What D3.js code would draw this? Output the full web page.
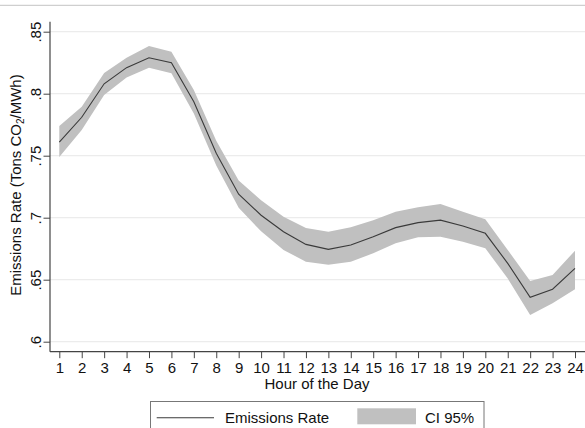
<!DOCTYPE html>
<html>
<head>
<meta charset="utf-8">
<script src="https://cdn.jsdelivr.net/npm/d3@7"></script>
<style>
  html, body { margin: 0; padding: 0; background: #fff; }
  svg { display: block; font-family: "Liberation Sans", Arial, sans-serif; }
</style>
</head>
<body>
<svg id="chart" width="585" height="428"></svg>
<script>
const hours = [1,2,3,4,5,6,7,8,9,10,11,12,13,14,15,16,17,18,19,20,21,22,23,24];
const rate  = [0.761,0.781,0.808,0.821,0.829,0.825,0.7935,0.752,0.719,0.702,0.6887,0.6785,0.6745,0.678,0.6847,0.692,0.696,0.698,0.6933,0.6874,0.6632,0.6358,0.6423,0.6592];
const ciLow = [0.749,0.7707,0.799,0.813,0.821,0.8165,0.784,0.742,0.708,0.689,0.674,0.6645,0.662,0.6645,0.6713,0.6794,0.6842,0.6847,0.6807,0.6753,0.651,0.6215,0.631,0.6423];
const ciHigh= [0.7739,0.7895,0.8167,0.829,0.8385,0.8339,0.803,0.762,0.730,0.714,0.7008,0.6917,0.6887,0.6922,0.698,0.7048,0.7084,0.711,0.7048,0.6987,0.674,0.649,0.6538,0.6734];
const yTicks = [0.6,0.65,0.7,0.75,0.8,0.85];
const yTickLabels = [".6",".65",".7",".75",".8",".85"];
const xTitle = "Hour of the Day";
const legendLabels = ["Emissions Rate","CI 95%"];

const svg = d3.select("#chart");
const x = d3.scaleLinear().domain([1,24]).range([59.3,575]);
const y = d3.scaleLinear().domain([0.6,0.85]).range([341.7,31.7]);
const axisLeftX = 50, axisBottomY = 351.7, axisTopY = 21.7, plotRight = 585;

// top frame line
svg.append("line").attr("x1",0).attr("x2",585).attr("y1",5.3).attr("y2",5.3)
  .attr("stroke","#cfcfcf").attr("stroke-width",1.2);

// gridlines
svg.append("g").selectAll("line").data(yTicks).join("line")
  .attr("x1",axisLeftX).attr("x2",plotRight)
  .attr("y1",d=>y(d)).attr("y2",d=>y(d))
  .attr("stroke","#ececec").attr("stroke-width",1.2);

const data = hours.map((h,i)=>({h, r:rate[i], lo:ciLow[i], hi:ciHigh[i]}));

// CI band
svg.append("path").datum(data)
  .attr("d", d3.area().x(d=>x(d.h)).y0(d=>y(d.lo)).y1(d=>y(d.hi)))
  .attr("fill","#c0c0c0");

// line
svg.append("path").datum(data)
  .attr("d", d3.line().x(d=>x(d.h)).y(d=>y(d.r)))
  .attr("fill","none").attr("stroke","#3a3a3a").attr("stroke-width",1.1);

// y axis
const yAxis = d3.axisLeft(y).tickValues(yTicks).tickFormat((d,i)=>yTickLabels[i]).tickSize(6.5).tickSizeOuter(0);
const gy = svg.append("g").attr("transform",`translate(${axisLeftX},0)`).call(yAxis);
gy.select(".domain").remove();
gy.selectAll(".tick line").attr("stroke","#444");
gy.selectAll(".tick text")
  .attr("font-size",15).attr("fill","#111")
  .attr("x",0).attr("dy",0).attr("text-anchor","middle")
  .attr("transform","translate(-9.5,0) rotate(-90)");
svg.append("line").attr("x1",axisLeftX).attr("x2",axisLeftX).attr("y1",axisTopY).attr("y2",axisBottomY)
  .attr("stroke","#444").attr("stroke-width",1.2);

// x axis
const xAxis = d3.axisBottom(x).tickValues(hours).tickFormat(d3.format("d")).tickSize(6.5).tickSizeOuter(0);
const gx = svg.append("g").attr("transform",`translate(0,${axisBottomY})`).call(xAxis);
gx.select(".domain").remove();
gx.selectAll(".tick line").attr("stroke","#444");
gx.selectAll(".tick text").attr("font-size",15).attr("fill","#111").attr("y",21.6).attr("dy",0);
svg.append("line").attr("x1",axisLeftX).attr("x2",plotRight).attr("y1",axisBottomY).attr("y2",axisBottomY)
  .attr("stroke","#444").attr("stroke-width",1.2);

// titles
svg.append("text").attr("x",317).attr("y",389.3).attr("text-anchor","middle")
  .attr("font-size",15).attr("fill","#111").text(xTitle);

const yt = svg.append("text").attr("text-anchor","middle").attr("font-size",15).attr("fill","#111")
  .attr("transform","translate(20.5,185) rotate(-90)");
yt.append("tspan").text("Emissions Rate (Tons CO");
yt.append("tspan").attr("font-size",10).attr("dy",3).text("2");
yt.append("tspan").attr("dy",-3).text("/MWh)");

// legend
const lg = svg.append("g");
lg.append("rect").attr("x",150.5).attr("y",401.5).attr("width",333.5).attr("height",40)
  .attr("fill","#fff").attr("stroke","#777").attr("stroke-width",1);
lg.append("line").attr("x1",156.7).attr("x2",214).attr("y1",417.7).attr("y2",417.7)
  .attr("stroke","#3a3a3a").attr("stroke-width",1.1);
lg.append("text").attr("x",225).attr("y",422.5).attr("font-size",15).attr("fill","#111").text(legendLabels[0]);
lg.append("rect").attr("x",357.3).attr("y",408.3).attr("width",58.7).attr("height",16).attr("fill","#c0c0c0");
lg.append("text").attr("x",425).attr("y",422.5).attr("font-size",15).attr("fill","#111").text(legendLabels[1]);
</script>
</body>
</html>
